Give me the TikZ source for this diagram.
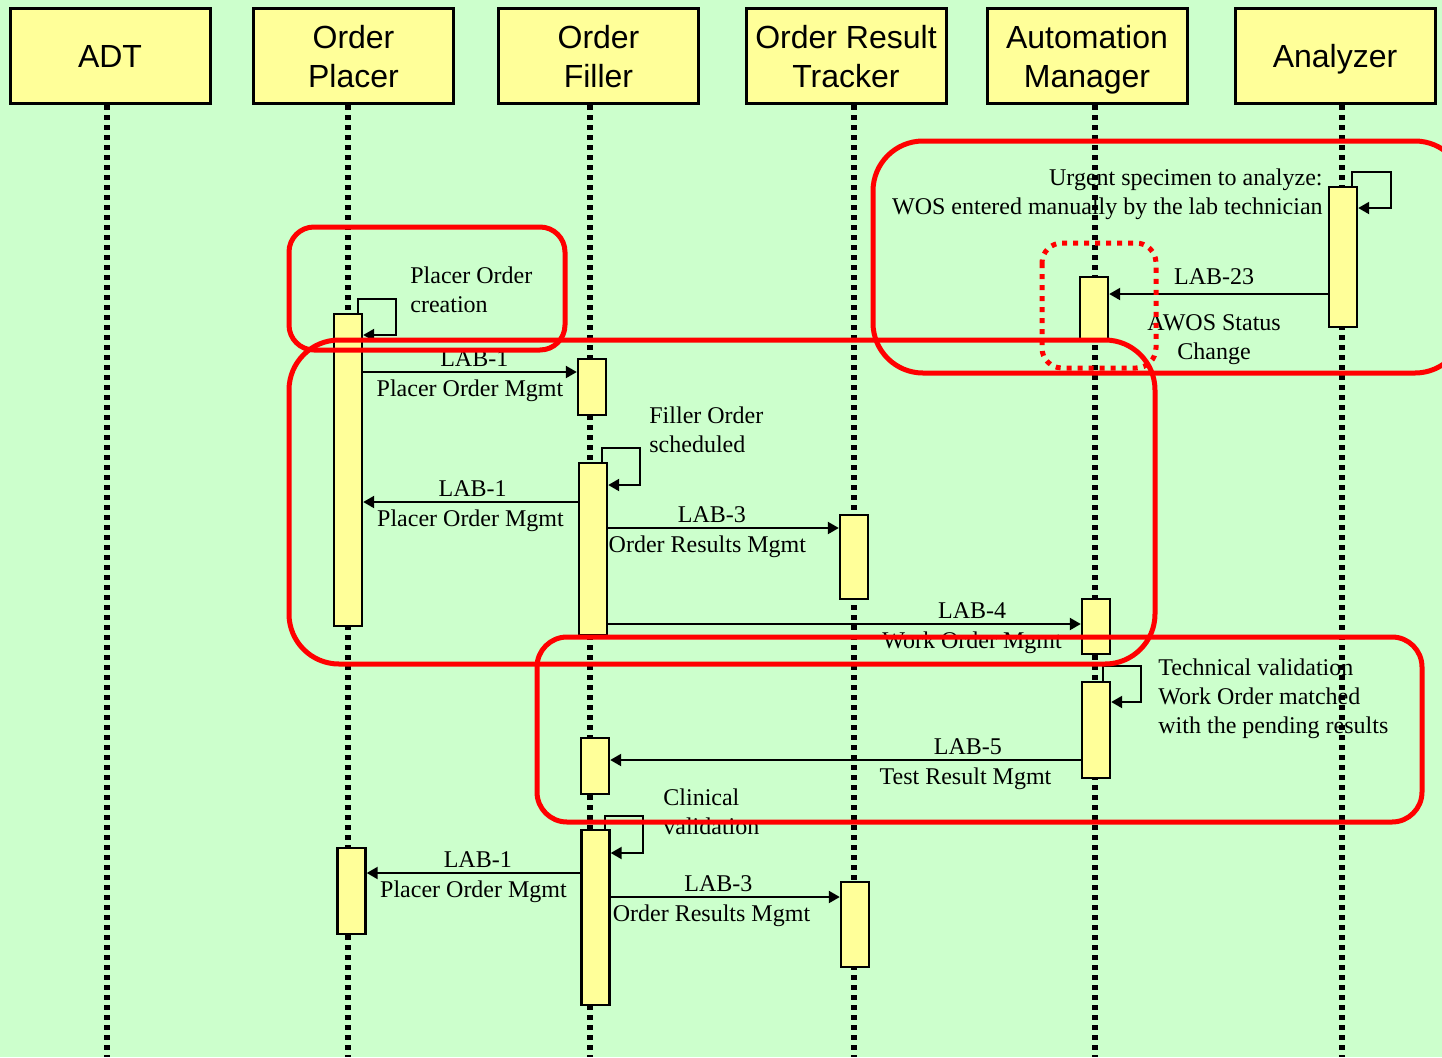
\documentclass[tikz,border=0pt]{standalone}
\usepackage{fontspec}
\setmainfont{Liberation Serif}
\newfontfamily\headfont{Liberation Sans}
\usepackage{tikz}
\usetikzlibrary{arrows.meta, calc}
\definecolor{bggreen}{RGB}{204,255,204}
\definecolor{boxyellow}{RGB}{255,255,153}
\definecolor{myred}{RGB}{255,0,0}

\begin{document}
\begin{tikzpicture}[x=0.5pt, y=-0.5pt,
  head/.style={draw, fill=boxyellow, line width=1.5pt, minimum width=100pt, minimum height=47.5pt,
    inner sep=0pt, align=center, text depth=0pt, font=\headfont\fontsize{16}{19.5}\selectfont},
  life/.style={line width=2.8pt, dash pattern=on 2.5pt off 2.5pt},
  bar/.style={draw, fill=boxyellow, line width=1.2pt, minimum width=14pt, inner sep=0pt, anchor=north},
  msg/.style={line width=1.1pt, -{Triangle[length=5.5pt, width=6pt]}},
  lbl/.style={font=\fontsize{12}{14.5}\selectfont, inner sep=2pt},
  lblb/.style={lbl, inner sep=3.5pt},
  note/.style={font=\fontsize{12}{14.5}\selectfont, inner sep=0pt},
  grp/.style={draw=myred, line width=2.5pt}]
  \useasboundingbox (0,0) rectangle (1442,1057);
  \fill[bggreen] (0,0) rectangle (1442,1057);

  % Actors
  \node[head] (adt) at (110,56) {ADT};
  \node[head] (placer) at (353.5,56) {Order\\Placer};
  \node[head] (filler) at (598.5,56) {Order\\Filler};
  \node[head] (tracker) at (846,56) {Order Result\\Tracker};
  \node[head] (automgr) at (1087,56) {Automation\\Manager};
  \node[head] (analyzer) at (1335,56) {Analyzer};

  % Notes
  \node[note, anchor=west, align=left] (n1) at (410,290) {Placer Order\\creation};
  \node[note, anchor=west, align=left] (n2) at (649,430) {Filler Order\\scheduled};
  \node[note, anchor=east, align=right] (n3) at (1323,194) {Urgent specimen to analyze:\\WOS entered manually by the lab technician};
  \node[note, anchor=west, align=left] (n4) at (1158,699) {Technical validation\\Work Order matched\\with the pending results};
  \node[note, anchor=west, align=left] (n5) at (663,812) {Clinical\\validation};

  % Lifelines
  \draw[life] (adt.south -| 107,0) -- (107,1057);
  \draw[life] (placer.south -| 348,0) -- (348,1057);
  \draw[life] (filler.south -| 590,0) -- (590,1057);
  \draw[life] (tracker.south -| 854,0) -- (854,1057);
  \draw[life] (automgr.south -| 1095,0) -- (1095,1057);
  \draw[life] (analyzer.south -| 1342,0) -- (1342,1057);

  % Activations
  \node[bar, minimum height=156pt] (op1) at (348,313) {};
  \node[bar, minimum height=43pt] (op2) at (351.5,847) {};
  \node[bar, minimum height=28pt] (of1) at (592,358) {};
  \node[bar, minimum height=86pt] (of2) at (593,462) {};
  \node[bar, minimum height=28pt] (of3) at (595,737) {};
  \node[bar, minimum height=87.5pt] (of4) at (595.5,829) {};
  \node[bar, minimum height=42pt] (ot1) at (854,514) {};
  \node[bar, minimum height=42.5pt] (ot2) at (855,881) {};
  \node[bar, minimum height=32pt] (am1) at (1094,276) {};
  \node[bar, minimum height=27.5pt] (am2) at (1096,598) {};
  \node[bar, minimum height=48pt] (am3) at (1096,681) {};
  \node[bar, minimum height=70pt] (an1) at (1343,186) {};

  % Self calls
  \draw[msg] ([xshift=-2.5pt]op1.north east) -- ++(0,-14) -| (396,335) -- (op1.east |- 0,335);
  \draw[msg] ([xshift=-3pt]of2.north east) -- ++(0,-14) -| (640,485) -- (of2.east |- 0,485);
  \draw[msg] ([xshift=-3pt]an1.north east) -- ++(0,-14) -| (1391,208) -- (an1.east |- 0,208);
  \draw[msg] ([xshift=3.5pt]am3.north) -- ++(0,-15) -| (1141,702) -- (am3.east |- 0,702);
  \draw[msg] ([xshift=-3pt]of4.north east) -- ++(0,-13) -| (643,853) -- (of4.east |- 0,853);

  % Messages
  \draw[msg] (op1.east |- 0,372) -- (of1.west |- 0,372)
    node[lbl, above, pos=0.52] {LAB-1} node[lblb, below, midway] {Placer Order Mgmt};
  \draw[msg] (of2.west |- 0,502) -- (op1.east |- 0,502)
    node[lbl, above, pos=0.49] {LAB-1} node[lblb, below, midway] {Placer Order Mgmt};
  \draw[msg] (of2.east |- 0,528) -- (ot1.west |- 0,528)
    node[lbl, above, pos=0.45] {LAB-3} node[lblb, below, pos=0.43] {Order Results Mgmt};
  \draw[msg] (of2.east |- 0,624) -- (am2.west |- 0,624)
    node[lbl, above, pos=0.77] {LAB-4} node[lblb, below, pos=0.77] {Work Order Mgmt};
  \draw[msg] (an1.west |- 0,294) -- (am1.east |- 0,294)
    node[lbl, above=2pt, pos=0.52] {LAB-23}
    node[lbl, below=7.5pt, pos=0.52, align=center] {AWOS Status\\Change};
  \draw[msg] (am3.west |- 0,760) -- (of3.east |- 0,760)
    node[lbl, above, pos=0.24] {LAB-5} node[lblb, below, pos=0.245] {Test Result Mgmt};
  \draw[msg] (of4.west |- 0,873) -- (op2.east |- 0,873)
    node[lbl, above, pos=0.48] {LAB-1} node[lblb, below, midway] {Placer Order Mgmt};
  \draw[msg] (of4.east |- 0,897) -- (ot2.west |- 0,897)
    node[lbl, above, pos=0.47] {LAB-3} node[lblb, below, pos=0.44] {Order Results Mgmt};

  % Groups
  \draw[grp, rounded corners=12.5pt] (289,227) rectangle (565,350);
  \draw[grp, rounded corners=25pt] (289,340) rectangle (1155,664);
  \draw[grp, rounded corners=25pt] (873,141) rectangle (1465,373);
  \draw[grp, rounded corners=15pt] (537,637) rectangle (1422,822);
  \draw[grp, line width=2.5pt, dash pattern=on 2.5pt off 3pt, rounded corners=10pt] (1042,243) rectangle (1156,368);
\end{tikzpicture}
\end{document}
